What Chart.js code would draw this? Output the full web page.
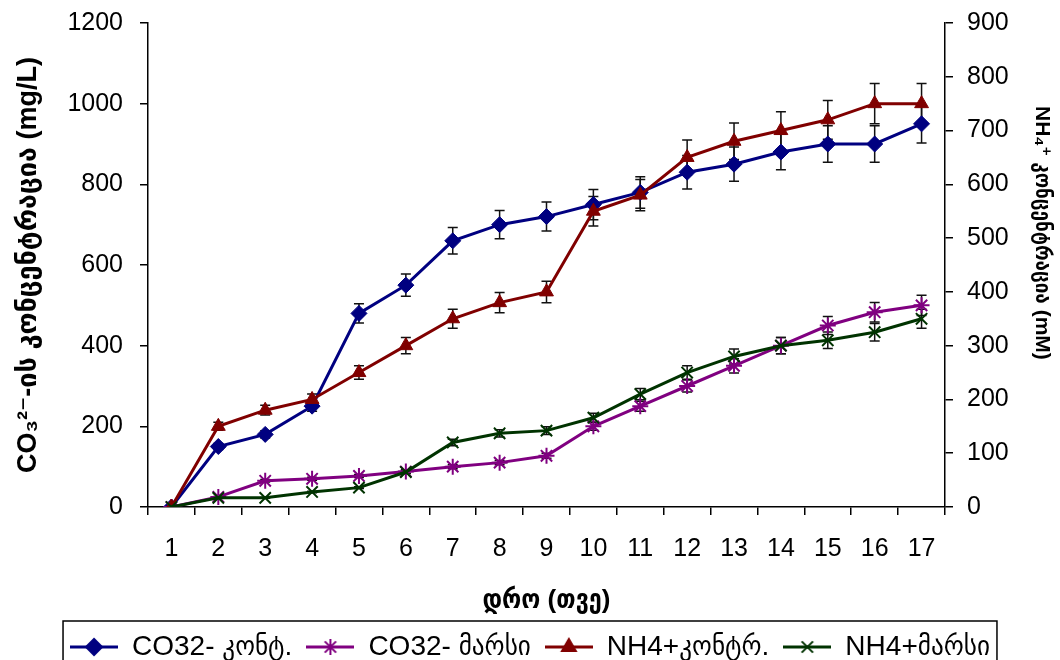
<!DOCTYPE html>
<html>
<head>
<meta charset="utf-8">
<script src="https://cdn.jsdelivr.net/npm/chart.js@4"></script>
<style>
  html, body { margin: 0; padding: 0; background: #fff; }
  #wrap { width: 1060px; height: 660px; }
</style>
</head>
<body>
<div id="wrap"><canvas id="lineChart"></canvas></div>
<script>
// ---------------- data ----------------
const months = ['1','2','3','4','5','6','7','8','9','10','11','12','13','14','15','16','17'];

// CO3 2- (left axis, mg/L)
const co3Control = [0, 150, 180, 250, 480, 550, 660, 700, 720, 750, 780, 830, 850, 880, 900, 900, 950];
const co3Mars    = [0, 25, 65, 70, 77, 88, 100, 110, 127, 200, 250, 300, 350, 400, 450, 483, 500];

// NH4+ (right axis, mM)
const nh4Control = [0, 150, 180, 200, 250, 300, 350, 380, 400, 550, 580, 650, 680, 700, 720, 750, 750];
const nh4Mars    = [0, 17, 17, 28, 36, 65, 120, 137, 142, 166, 210, 250, 280, 300, 310, 325, 350];

const leftTicks  = [0, 200, 400, 600, 800, 1000, 1200];
const rightTicks = [0, 100, 200, 300, 400, 500, 600, 700, 800, 900];

// error bars are +/- 5 % of value
const ERR_PCT = 0.05;

const FONT = "'Liberation Sans', 'DejaVu Sans Condensed', 'DejaVu Sans', sans-serif";
const FONT_WIDE = "'Liberation Sans', 'DejaVu Sans', sans-serif";

// ---------------- legend icons (line + marker) ----------------
function legendIcon(color, style, radius) {
    const c = document.createElement('canvas');
    c.width = 48;
    c.height = 22;
    const g = c.getContext('2d');
    g.strokeStyle = color;
    g.lineWidth = 3;
    g.beginPath();
    g.moveTo(0, 11);
    g.lineTo(48, 11);
    g.stroke();
    g.fillStyle = color;
    g.lineWidth = 2;
    Chart.helpers.drawPoint(g, {pointStyle: style, radius: radius, borderWidth: 2, rotation: 0}, 24, 11);
    return c;
}

// ---------------- plugins ----------------
const errorBars = {
    id: 'errorBars',
    beforeDatasetsDraw(chart) {
        const ctx = chart.ctx;
        ctx.save();
        ctx.strokeStyle = '#111';
        ctx.lineWidth = 1.5;
        chart.data.datasets.forEach((ds, i) => {
            const meta = chart.getDatasetMeta(i);
            const yScale = chart.scales[ds.yAxisID];
            meta.data.forEach((pt, j) => {
                const v = ds.data[j];
                const e = v * ERR_PCT;
                if (e <= 0) return;
                const yTop = yScale.getPixelForValue(v + e);
                const yBot = yScale.getPixelForValue(v - e);
                const x = pt.x;
                ctx.beginPath();
                ctx.moveTo(x, yTop); ctx.lineTo(x, yBot);
                ctx.moveTo(x - 5, yTop); ctx.lineTo(x + 5, yTop);
                ctx.moveTo(x - 5, yBot); ctx.lineTo(x + 5, yBot);
                ctx.stroke();
            });
        });
        ctx.restore();
    }
};

const legendBorder = {
    id: 'legendBorder',
    afterDraw(chart) {
        const boxes = chart.legend.legendHitBoxes;
        if (!boxes || !boxes.length) return;
        const left = Math.min(...boxes.map(b => b.left)) - 7;
        const right = Math.max(...boxes.map(b => b.left + b.width)) + 7;
        const top = Math.min(...boxes.map(b => b.top)) - 12;
        const ctx = chart.ctx;
        ctx.save();
        ctx.strokeStyle = '#000';
        ctx.lineWidth = 1.5;
        ctx.strokeRect(left, top, right - left, 660 - top + 5);
        ctx.restore();
    }
};

// trailing spaces push the right title up a little, as in the original
const rightTitle = 'NH₄⁺ კონცენტრაცია (mM)' + '\u00a0'.repeat(11);

// ---------------- chart ----------------
document.addEventListener('DOMContentLoaded', function(){

    const ctx1 = document.getElementById('lineChart');
    const lineChart = new Chart(ctx1, {
        type: 'line',
        data: {
            labels: months,
            datasets: [{
                label: 'CO32- კონტ.',
                data: co3Control,
                yAxisID: 'y',
                borderColor: '#000080',
                backgroundColor: '#000080',
                borderWidth: 3,
                pointStyle: 'rectRot',
                pointRadius: 8,
                pointBorderWidth: 1,
                order: 4
            }, {
                label: 'CO32- მარსი',
                data: co3Mars,
                yAxisID: 'y',
                borderColor: '#800080',
                backgroundColor: '#800080',
                borderWidth: 3,
                pointStyle: 'star',
                pointRadius: 8,
                pointBorderWidth: 2,
                order: 3
            }, {
                label: 'NH4+კონტრ.',
                data: nh4Control,
                yAxisID: 'y1',
                borderColor: '#800000',
                backgroundColor: '#800000',
                borderWidth: 3,
                pointStyle: 'triangle',
                pointRadius: 8,
                pointBorderWidth: 1,
                order: 2
            }, {
                label: 'NH4+მარსი',
                data: nh4Mars,
                yAxisID: 'y1',
                borderColor: '#003300',
                backgroundColor: '#003300',
                borderWidth: 3,
                pointStyle: 'crossRot',
                pointRadius: 8,
                pointBorderWidth: 2,
                order: 1
            }]
        },
        options: {
            responsive: true,
            maintainAspectRatio: false,
            animation: false,
            layout: { padding: { top: 0, right: 0, bottom: -11, left: 0 } },
            elements: { line: { tension: 0 } },
            plugins: {
                tooltip: { enabled: false },
                legend: {
                    position: 'bottom',
                    labels: {
                        font: { family: FONT, size: 28 },
                        color: '#000',
                        usePointStyle: true,
                        pointStyleWidth: 48,
                        padding: 14,
                        sort: (a, b) => a.datasetIndex - b.datasetIndex,
                        generateLabels(chart) {
                            return chart.data.datasets.map((ds, i) => ({
                                text: ds.label,
                                datasetIndex: i,
                                fontColor: '#000',
                                pointStyle: legendIcon(ds.borderColor, ds.pointStyle, 8),
                                lineWidth: 0,
                                hidden: false
                            }));
                        }
                    }
                }
            },
            scales: {
                x: {
                    offset: true,
                    grid: { display: true, drawOnChartArea: false, drawTicks: true, tickLength: 8, offset: true, color: '#000', lineWidth: 1.5 },
                    border: { display: true, color: '#000', width: 1.5 },
                    ticks: { font: { family: FONT, size: 25 }, color: '#000', padding: 19, maxRotation: 0, autoSkip: false },
                    title: {
                        display: true,
                        text: 'დრო (თვე)',
                        font: { family: FONT, size: 26, weight: 'bold' },
                        color: '#000',
                        padding: { top: 0, bottom: 3 }
                    },
                    afterFit(scale) { scale.height = 112; }
                },
                y: {
                    position: 'left',
                    min: 0,
                    max: 1200,
                    afterBuildTicks(scale) { scale.ticks = leftTicks.map(v => ({ value: v })); },
                    grid: { display: true, drawOnChartArea: false, drawTicks: true, tickLength: 8, color: '#000', lineWidth: 1.5 },
                    border: { display: true, color: '#000', width: 1.5 },
                    ticks: { font: { family: FONT, size: 25 }, color: '#000', padding: 17, callback: v => String(v) },
                    title: {
                        display: true,
                        text: 'CO₃²⁻-ის კონცენტრაცია (mg/L)',
                        font: { family: FONT_WIDE, size: 27, weight: 'bold' },
                        color: '#000',
                        padding: { top: 12, bottom: 0 }
                    },
                    afterFit(scale) { scale.width = 148; scale.paddingTop = 23; }
                },
                y1: {
                    position: 'right',
                    min: 0,
                    max: 900,
                    afterBuildTicks(scale) { scale.ticks = rightTicks.map(v => ({ value: v })); },
                    grid: { display: true, drawOnChartArea: false, drawTicks: true, tickLength: 8, color: '#000', lineWidth: 1.5 },
                    border: { display: true, color: '#000', width: 1.5 },
                    ticks: { font: { family: FONT, size: 25 }, color: '#000', padding: 14, callback: v => String(v) },
                    title: {
                        display: true,
                        text: rightTitle,
                        font: { family: FONT, size: 21, weight: 'bold' },
                        color: '#000',
                        padding: { top: 6, bottom: 0 }
                    },
                    afterFit(scale) { scale.width = 115; scale.paddingTop = 23; }
                }
            }
        },
        plugins: [errorBars, legendBorder]
    });

});
</script>
</body>
</html>
